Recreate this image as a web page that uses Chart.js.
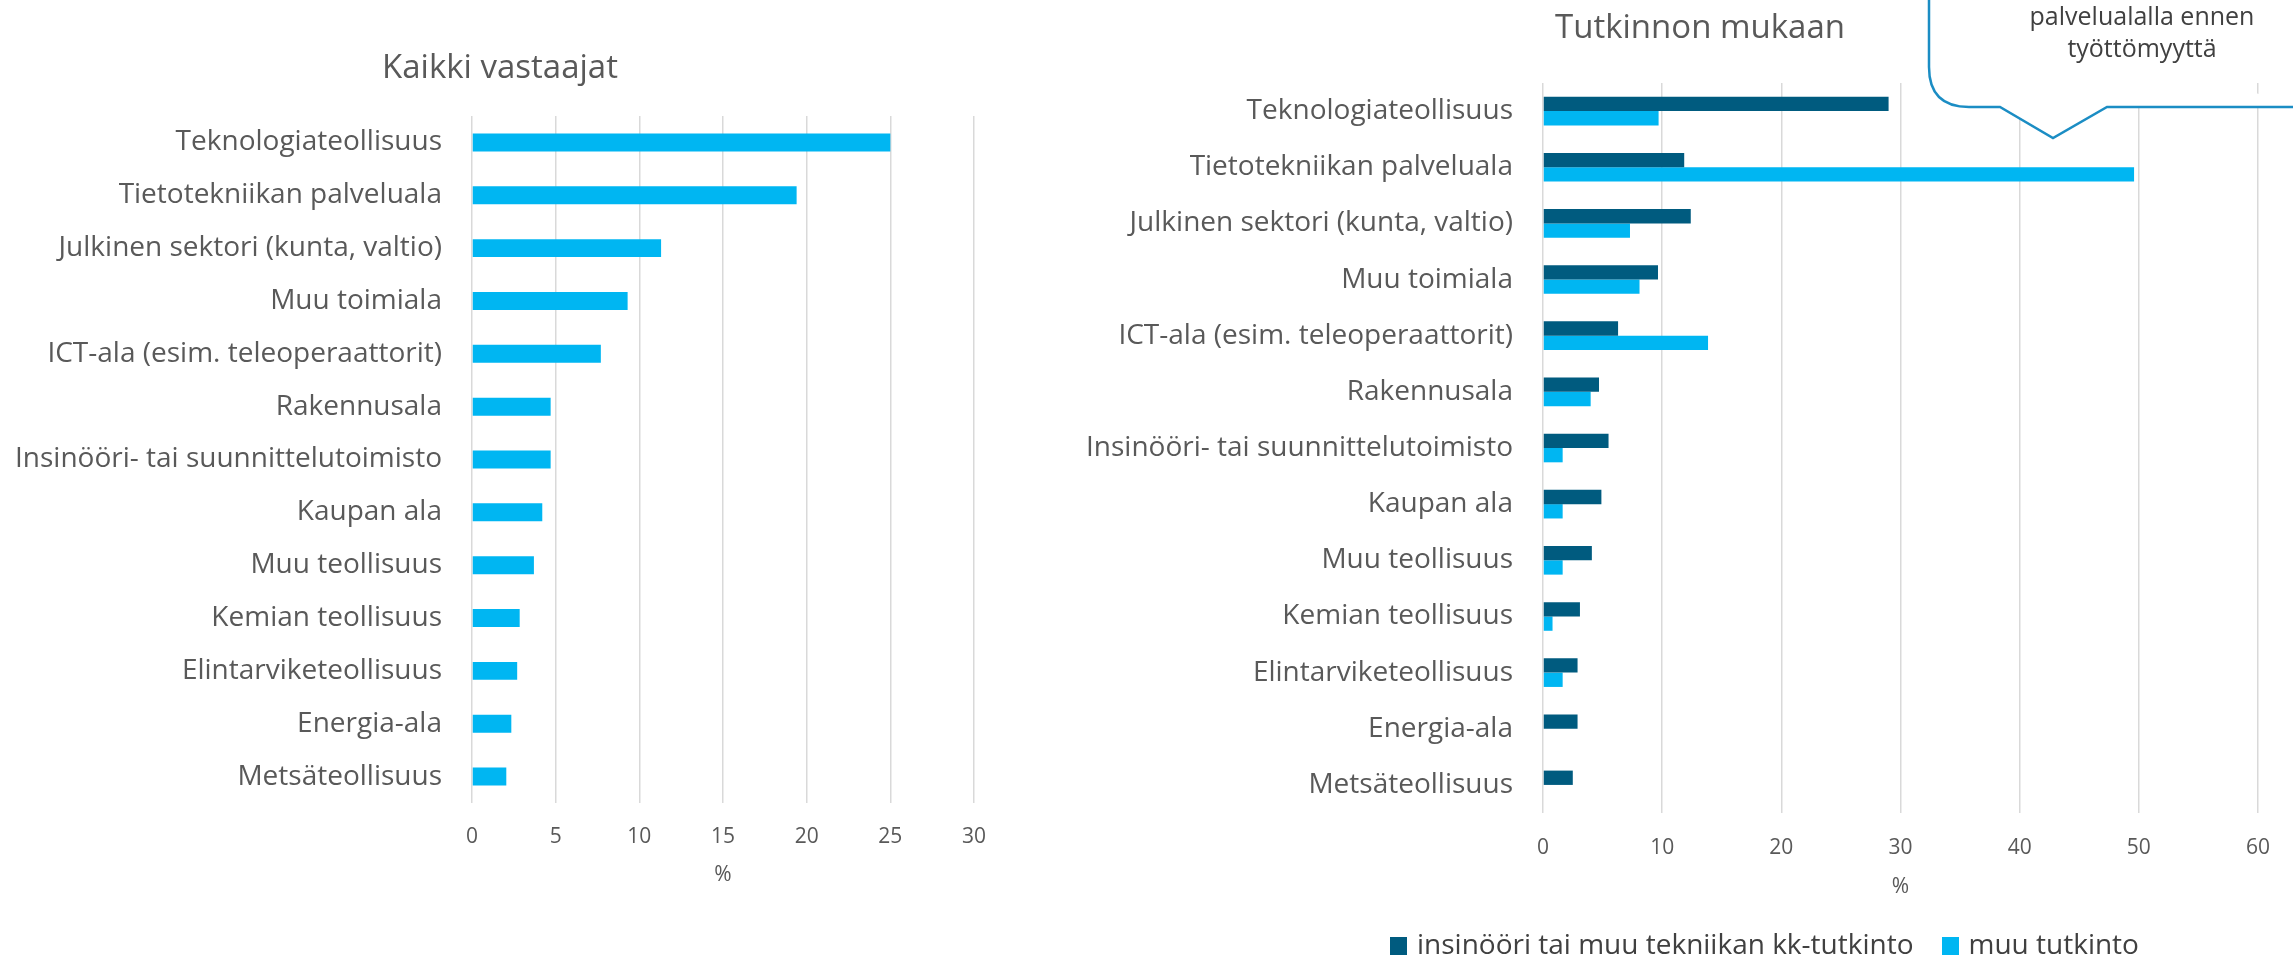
<!DOCTYPE html>
<html>
<head>
<meta charset="utf-8">
<script src="https://cdn.jsdelivr.net/npm/chart.js@4"></script>
<style>
    body { margin: 0; background: #ffffff; width: 2293px; height: 957px; overflow: hidden; position: relative; font-family: 'Open Sans', sans-serif; }
    #leftChart { position: absolute; left: 0; top: 0; }
    #rightChart { position: absolute; left: 1050px; top: 0; }
    .chartTitle { position: absolute; width: 600px; height: 50px; line-height: 50px; text-align: center; font-size: 33px; color: #595959; white-space: nowrap; }
    #legend { position: absolute; left: 1390px; top: 924px; height: 38px; display: flex; align-items: center; font-size: 28px; line-height: 38px; color: #404040; white-space: nowrap; }
    #legend span.box { display: inline-block; width: 17px; height: 18px; position: relative; top: 3px; margin-right: 10px; }
    #callout { position: absolute; left: 1900px; top: 0; }
</style>
</head>
<body>
<canvas id="leftChart" width="1000" height="957"></canvas>
<canvas id="rightChart" width="1243" height="957"></canvas>
<div class="chartTitle" style="left: 200px; top: 41px;">Kaikki vastaajat</div>
<div class="chartTitle" style="left: 1400px; top: 1px;">Tutkinnon mukaan</div>
<div id="legend">
    <span class="box" style="background:#005b7f"></span><span>insinööri tai muu tekniikan kk-tutkinto</span>
    <span class="box" style="background:#00b6f2; margin-left: 28px"></span><span>muu tutkinto</span>
</div>
<svg id="callout" width="393" height="150">
    <path d="M 29 -10 L 29 67 Q 29 107 69 107 L 100 107 L 153 138 L 207 107 L 400 107"
          fill="#ffffff" stroke="#1b8dc4" stroke-width="2.5"/>
    <text x="242" y="25" text-anchor="middle" font-family="Open Sans" font-size="25" fill="#404040">palvelualalla ennen</text>
    <text x="242" y="57" text-anchor="middle" font-family="Open Sans" font-size="25" fill="#404040">työttömyyttä</text>
</svg>
<script>
const categories = [
    'Teknologiateollisuus',
    'Tietotekniikan palveluala',
    'Julkinen sektori (kunta, valtio)',
    'Muu toimiala',
    'ICT-ala (esim. teleoperaattorit)',
    'Rakennusala',
    'Insinööri- tai suunnittelutoimisto',
    'Kaupan ala',
    'Muu teollisuus',
    'Kemian teollisuus',
    'Elintarviketeollisuus',
    'Energia-ala',
    'Metsäteollisuus'
];
const allValues = [25.0, 19.4, 11.3, 9.3, 7.7, 4.7, 4.7, 4.2, 3.7, 2.85, 2.7, 2.35, 2.05];
const engValues = [29.0, 11.85, 12.4, 9.65, 6.3, 4.7, 5.5, 4.9, 4.1, 3.1, 2.9, 2.9, 2.5];
const otherValues = [9.7, 49.6, 7.3, 8.1, 13.85, 4.0, 1.65, 1.65, 1.65, 0.8, 1.65, 0, 0];
const seriesNames = ['insinööri tai muu tekniikan kk-tutkinto', 'muu tutkinto'];

const darkBlue = '#005b7f';
const lightBlue = '#00b6f2';
const textGray = '#595959';
const gridGray = '#d9d9d9';

Chart.defaults.font.family = "'Open Sans', sans-serif";
Chart.defaults.color = textGray;

// sizes are picked so the plot areas land where they sit in the picture
function makeOptions(cfg) {
    return {
        indexAxis: 'y',
        responsive: false,
        animation: false,
        devicePixelRatio: 1,
        layout: { padding: cfg.pad },
        plugins: {
            legend: { display: false },
            tooltip: { enabled: false }
        },
        scales: {
            x: {
                min: 0,
                max: cfg.xMax,
                ticks: { stepSize: cfg.xStep, padding: 0, color: textGray, font: { size: 21 } },
                // invisible tick marks push the labels down without widening the side padding
                grid: { color: gridGray, lineWidth: 1.5, drawTicks: true, tickLength: cfg.tickPad, tickColor: 'rgba(0,0,0,0)' },
                border: { display: false },
                title: { display: true, text: '%', color: textGray, font: { size: 21 }, padding: 0 },
                afterFit: scale => { scale.height = cfg.xHeight; }
            },
            y: {
                ticks: { padding: 30, color: textGray, font: { size: 28 }, autoSkip: false },
                grid: { display: false, drawTicks: false },
                border: { display: false },
                afterFit: scale => { scale.width = cfg.yWidth; }
            }
        }
    };
}

new Chart(document.getElementById('leftChart'), {
    type: 'bar',
    data: {
        labels: categories,
        datasets: [{
            label: 'Kaikki vastaajat',
            data: allValues,
            backgroundColor: lightBlue,
            categoryPercentage: 1.0,
            barPercentage: 0.34
        }]
    },
    options: makeOptions({
        xMax: 30, xStep: 5, tickPad: 21, xHeight: 85, yWidth: 472,
        pad: { top: 116, left: 0, right: 26, bottom: 69 }
    })
});

new Chart(document.getElementById('rightChart'), {
    type: 'bar',
    data: {
        labels: categories,
        datasets: [{
            label: seriesNames[0],
            data: engValues,
            backgroundColor: darkBlue,
            categoryPercentage: 0.51,
            barPercentage: 1.0
        }, {
            label: seriesNames[1],
            data: otherValues,
            backgroundColor: lightBlue,
            categoryPercentage: 0.51,
            barPercentage: 1.0
        }]
    },
    options: makeOptions({
        xMax: 60, xStep: 10, tickPad: 22, xHeight: 87, yWidth: 493,
        pad: { top: 83, left: 0, right: 35, bottom: 57 }
    })
});
</script>
</body>
</html>
